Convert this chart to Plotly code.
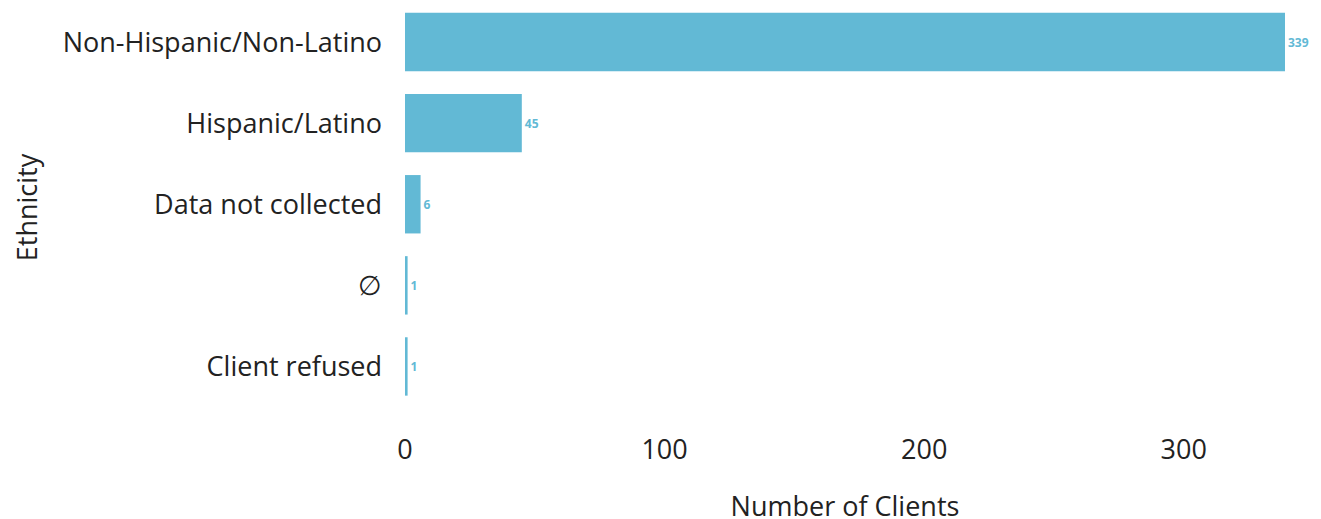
import plotly.graph_objects as go

categories = ["Non-Hispanic/Non-Latino", "Hispanic/Latino", "Data not collected", "∅", "Client refused"]
counts = [339, 45, 6, 1, 1]
x_ticks = [0, 100, 200, 300]

bar_color = "#62b9d5"

fig = go.Figure(go.Bar(
    y=categories,
    x=counts,
    orientation="h",
    marker=dict(color=bar_color, line=dict(width=0)),
    width=0.72,
    text=[str(c) for c in counts],
    textposition="outside",
    textfont=dict(family="Open Sans", size=12, color=bar_color, weight="bold"),
    cliponaxis=False,
))

fig.update_layout(
    width=1321, height=519,
    margin=dict(l=397, r=44, t=0, b=120),
    plot_bgcolor="white", paper_bgcolor="white",
    font=dict(family="Open Sans", size=27, color="#222"),
    showlegend=False,
    uniformtext=dict(mode=False),
)
fig.update_xaxes(
    range=[0, 339], tickvals=x_ticks, showgrid=False, zeroline=False,
    showline=False, ticklabelstandoff=24,
    title=dict(text="Number of Clients", standoff=31, font=dict(size=27)),
    tickfont=dict(size=27),
)
fig.update_yaxes(
    categoryorder="array", categoryarray=categories[::-1],
    range=[-0.5, 4.42],
    showgrid=False, zeroline=False, showline=False, ticklabelstandoff=22,
    title=dict(text="Ethnicity", standoff=32, font=dict(size=27)),
    tickfont=dict(size=27),
)

fig.write_html("out.html")
